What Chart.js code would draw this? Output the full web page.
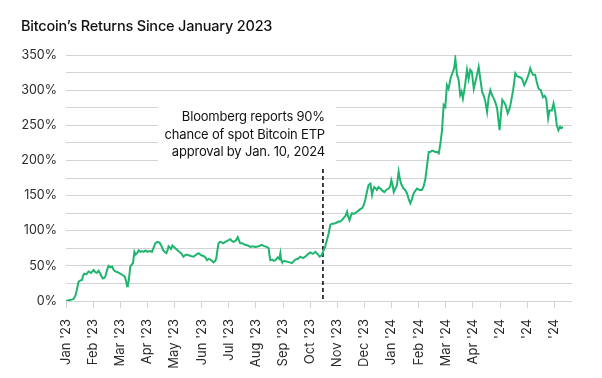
<!DOCTYPE html>
<html>
<head>
<meta charset="utf-8">
<script src="https://cdn.jsdelivr.net/npm/chart.js@4/dist/chart.umd.min.js"></script>
<style>
  html, body { margin: 0; padding: 0; background: #fff; }
  canvas { display: block; }
</style>
</head>
<body>
<canvas id="c" width="602" height="378"></canvas>
<script>
// ---- Data ----
const chartTitle = "Bitcoin\u2019s Returns Since January 2023";
const monthLabels = ["Jan '23","Feb '23","Mar '23","Apr '23","May '23","Jun '23","Jul '23","Aug '23","Sep '23","Oct '23","Nov '23","Dec '23","Jan '24","Feb '24","Mar '24","Apr '24","'24","'24","'24"];
const yTickValues = [0, 50, 100, 150, 200, 250, 300, 350];
// x = months since Jan 1 2023, y = cumulative return (%)
const btcReturns = [
 [0,0],[0.1,1],[0.2,2],[0.28,3],[0.35,8],[0.4,16],[0.46,27],[0.52,29],[0.59,30],[0.63,36],[0.67,39],[0.75,38],[0.83,42],[0.92,40],
 [1.02,44],[1.08,41],[1.14,40],[1.2,43],[1.26,39],[1.31,35],[1.36,32],[1.42,33],[1.45,35],[1.52,45],[1.57,50],[1.64,48],[1.7,49],[1.76,44],[1.82,42],[1.9,41],
 [2.0,39],[2.08,37],[2.16,35],[2.22,28],[2.25,21],[2.28,24],[2.31,28],[2.37,49],[2.43,52],[2.47,54],[2.52,70],[2.57,66],[2.62,68],[2.68,72],[2.74,70],[2.8,71],[2.86,70],[2.93,72],
 [3.0,70],[3.08,71],[3.17,70],[3.23,76],[3.29,82],[3.37,84],[3.45,83],[3.51,79],[3.57,73],[3.63,70],[3.7,68],[3.74,72],[3.78,78],[3.83,76],[3.87,74],[3.92,79],[3.97,77],
 [4.03,75],[4.09,73],[4.17,70],[4.24,68],[4.33,63],[4.42,66],[4.52,65],[4.6,64],[4.7,63],[4.8,66],[4.89,68],[4.98,65],
 [5.07,64],[5.14,62],[5.2,58],[5.26,60],[5.32,59],[5.38,57],[5.44,55],[5.5,57],[5.54,61],[5.58,72],[5.62,82],[5.67,84],[5.71,84],[5.79,82],[5.87,84],[5.96,86],
 [6.06,88],[6.12,85],[6.18,84],[6.26,86],[6.33,91],[6.38,86],[6.42,82],[6.5,82],[6.6,80],[6.7,79],[6.79,77],[6.88,78],[6.98,77],
 [7.1,78],[7.22,80],[7.3,78],[7.4,77],[7.47,75],[7.5,65],[7.53,58],[7.6,59],[7.66,57],[7.72,58],[7.8,62],[7.86,60],[7.9,68],[7.93,58],[7.96,56],
 [8.05,57],[8.15,56],[8.24,55],[8.33,54],[8.4,57],[8.45,59],[8.55,60],[8.64,63],[8.73,61],[8.82,63],[8.9,66],
 [9.0,69],[9.1,67],[9.19,70],[9.27,67],[9.35,63],[9.42,65],[9.47,70],[9.55,77],[9.62,87],[9.68,96],[9.74,108],[9.8,110],[9.86,110],[9.95,111],
 [10.05,113],[10.11,113],[10.17,115],[10.23,118],[10.3,121],[10.36,127],[10.4,120],[10.45,115],[10.5,121],[10.54,125],[10.62,124],[10.73,127],[10.82,130],[10.91,132],[10.97,136],
 [11.03,144],[11.09,155],[11.15,165],[11.22,167],[11.28,151],[11.32,158],[11.36,162],[11.42,160],[11.46,158],[11.52,162],[11.58,160],[11.66,157],[11.73,155],[11.8,158],[11.89,160],[11.95,163],[11.99,172],
 [12.04,165],[12.08,155],[12.14,160],[12.2,165],[12.26,184],[12.3,175],[12.35,167],[12.44,160],[12.5,158],[12.57,153],[12.63,145],[12.69,139],[12.75,145],[12.81,153],[12.88,157],[12.94,160],
 [13.03,158],[13.12,158],[13.18,163],[13.24,172],[13.3,190],[13.37,212],[13.43,212],[13.49,214],[13.56,213],[13.62,212],[13.68,212],[13.74,210],[13.8,224],[13.86,243],[13.92,279],[13.98,276],
 [14.04,307],[14.1,302],[14.15,312],[14.19,319],[14.26,326],[14.31,332],[14.35,345],[14.41,322],[14.47,315],[14.53,293],[14.58,298],[14.63,288],[14.71,307],[14.78,329],[14.84,316],[14.9,329],[14.96,326],
 [15.03,302],[15.09,312],[15.15,322],[15.21,333],[15.27,316],[15.34,297],[15.4,292],[15.46,283],[15.52,269],[15.58,290],[15.64,300],[15.7,293],[15.77,288],[15.83,282],[15.89,274],[15.98,243],
 [16.03,265],[16.08,286],[16.14,283],[16.2,279],[16.28,267],[16.33,272],[16.38,279],[16.48,300],[16.56,324],[16.62,320],[16.68,319],[16.75,318],[16.81,316],[16.89,307],[16.94,311],[16.99,316],
 [17.05,322],[17.11,331],[17.16,326],[17.21,322],[17.29,322],[17.36,310],[17.42,302],[17.5,300],[17.58,290],[17.64,292],[17.7,288],[17.77,260],[17.82,271],[17.91,271],[17.97,281],
 [18.03,269],[18.09,250],[18.15,243],[18.21,248],[18.26,246],[18.31,248]
];
const eventMonth = 9.47; // Bloomberg report date
const eventNoteLines = ["Bloomberg reports 90%", "chance of spot Bitcoin ETP", "approval by Jan. 10, 2024"];

const FONT = "Inter, 'Noto Sans', sans-serif";
const TEXT = '#2b2b2b';
const GRID = '#d3d3d3';

const overlayPlugin = {
  id: 'overlay',
  beforeDatasetsDraw(chart) {
    const ctx = chart.ctx, ca = chart.chartArea;
    const x = chart.scales.x.getPixelForValue(eventMonth);
    ctx.save();
    // white note background
    ctx.fillStyle = '#fff';
    ctx.fillRect(x - 165, ca.top + 40, 178, 75);
    // note text
    ctx.fillStyle = '#111';
    ctx.font = '13px ' + FONT;
    try { ctx.letterSpacing = '-0.2px'; } catch (e) {}
    ctx.textAlign = 'right';
    ctx.textBaseline = 'alphabetic';
    eventNoteLines.forEach((t, i) => ctx.fillText(t, x + 2, ca.top + 66 + i * 17.5));
    try { ctx.letterSpacing = '0px'; } catch (e) {}
    // dashed event line
    ctx.strokeStyle = '#111';
    ctx.lineWidth = 1.6;
    ctx.setLineDash([4, 3]);
    ctx.beginPath();
    ctx.moveTo(x, ca.top + 114);
    ctx.lineTo(x, ca.bottom);
    ctx.stroke();
    ctx.restore();
  },
  afterDraw(chart) {
    const ctx = chart.ctx;
    ctx.save();
    ctx.fillStyle = '#111';
    ctx.font = '500 14.5px ' + FONT;
    try { ctx.letterSpacing = '-0.2px'; } catch (e) {}
    ctx.textAlign = 'left';
    ctx.textBaseline = 'alphabetic';
    ctx.fillText(chartTitle, 21, 31);
    ctx.restore();
  }
};

new Chart(document.getElementById('c'), {
  type: 'line',
  data: {
    datasets: [{
      data: btcReturns.map(([m, v]) => ({ x: m, y: v })),
      borderColor: '#1fb56f',
      borderWidth: 2,
      pointRadius: 0,
      tension: 0,
      fill: false
    }]
  },
  options: {
    responsive: false,
    animation: false,
    devicePixelRatio: 1,
    layout: { padding: { top: 55, left: 20, right: 30, bottom: 0 } },
    plugins: { legend: { display: false }, tooltip: { enabled: false }, title: { display: false } },
    scales: {
      x: {
        type: 'linear',
        min: 0,
        max: 18.65,
        afterBuildTicks: s => { s.ticks = monthLabels.map((_, i) => ({ value: i })); },
        afterFit: s => { s.height = 77; },
        border: { display: false },
        grid: { drawOnChartArea: false, drawTicks: true, tickLength: 7, tickColor: GRID, color: GRID },
        ticks: {
          autoSkip: false, maxRotation: 90, minRotation: 90, padding: 11,
          color: TEXT, font: { family: FONT, size: 13 },
          callback: v => monthLabels[Math.round(v)]
        }
      },
      y: {
        min: 0,
        max: 350,
        afterBuildTicks: s => {
          const t = [];
          for (let v = 0; v <= 350; v += 25) t.push({ value: v });
          s.ticks = t;
        },
        afterFit: s => { s.width = 46; },
        border: { display: false },
        grid: { color: GRID, lineWidth: 1, drawTicks: false },
        ticks: {
          autoSkip: false, padding: 9, color: TEXT, font: { family: FONT, size: 12.5 },
          callback: v => yTickValues.includes(v) ? v + '%' : ''
        }
      }
    }
  },
  plugins: [overlayPlugin]
});
</script>
</body>
</html>
